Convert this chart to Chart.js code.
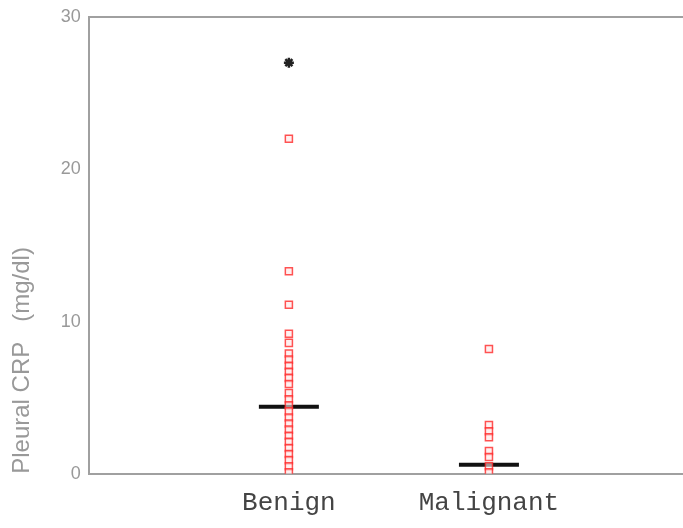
<!DOCTYPE html>
<html>
<head>
<meta charset="utf-8">
<script src="https://cdn.jsdelivr.net/npm/chart.js@4.4.1/dist/chart.umd.min.js"></script>
<style>
  html, body { margin: 0; padding: 0; background: #fff; overflow: hidden; }
  #wrap { width: 683px; height: 528px; }
</style>
</head>
<body>
<div id="wrap"><canvas id="crpChart" width="683" height="528"></canvas></div>
<script>
// groups on the x axis
const groups = ['Benign', 'Malignant']
// pleural CRP (mg/dl)
const benignValues = [22, 13.3, 11.1, 9.2, 8.6, 7.9, 7.5, 7.1, 6.7, 6.3, 5.9, 5.3, 4.9, 4.5, 4.1, 3.7, 3.3, 2.9, 2.5, 2.1, 1.7, 1.3, 0.9, 0.5, 0.1]
const malignantValues = [8.2, 3.2, 2.8, 2.4, 1.5, 1.1, 0.5, 0.1]
const benignOutliers = [27]
const medians = [4.4, 0.6]
const yTicks = [0, 10, 20, 30]

const toPoints = (vals, xPos) => vals.map((v) => ({ x: xPos, y: v }))

const canvas = document.getElementById('crpChart')
const ctx = canvas.getContext('2d')

new Chart(ctx, {
  type: 'scatter',
  data: {
    datasets: [
      {
        label: 'Benign',
        data: toPoints(benignValues, 1),
        pointStyle: 'rect',
        pointRadius: 5,
        borderColor: 'rgba(255, 40, 40, 0.8)',
        backgroundColor: 'rgba(255, 230, 230, 0.6)',
        borderWidth: 1.5,
      },
      {
        label: 'Malignant',
        data: toPoints(malignantValues, 2),
        pointStyle: 'rect',
        pointRadius: 5,
        borderColor: 'rgba(255, 40, 40, 0.8)',
        backgroundColor: 'rgba(255, 230, 230, 0.6)',
        borderWidth: 1.5,
      },
      {
        label: 'Outlier',
        data: toPoints(benignOutliers, 1),
        pointStyle: 'star',
        pointRadius: 5,
        borderColor: '#222',
        backgroundColor: '#222',
        borderWidth: 2.5,
      },
      {
        label: 'Median',
        data: medians.map((m, i) => ({ x: i + 1, y: m })),
        pointStyle: 'line',
        pointRadius: 30,
        borderColor: '#111',
        borderWidth: 4,
      },
    ],
  },
  options: {
    responsive: false,
    animation: false,
    layout: { autoPadding: false, padding: { top: 17, right: 0, bottom: -5, left: 8 } },
    plugins: { legend: { display: false }, tooltip: { enabled: false } },
    scales: {
      x: {
        type: 'linear',
        min: 0,
        max: 2.97,
        afterBuildTicks: (axis) => {
          axis.ticks = groups.map((g, i) => ({ value: i + 1 }))
        },
        afterFit: (axis) => {
          axis.paddingLeft = 0
          axis.paddingRight = 0
        },
        ticks: {
          callback: (v) => groups[v - 1] || '',
          color: '#444',
          font: { family: 'Liberation Mono', size: 26 },
          padding: 14,
          maxRotation: 0,
        },
        grid: { display: false, drawTicks: false },
        border: { color: '#a0a0a0', width: 2 },
      },
      y: {
        min: 0,
        max: 30,
        afterBuildTicks: (axis) => {
          axis.ticks = yTicks.map((v) => ({ value: v }))
        },
        afterFit: (axis) => {
          axis.paddingTop = 0
          axis.paddingBottom = 0
        },
        ticks: {
          color: '#999',
          font: { family: 'Liberation Sans', size: 18 },
          padding: 8,
        },
        grid: {
          drawTicks: false,
          lineWidth: 2,
          color: (c) => (c.tick && c.tick.value === 30 ? '#a0a0a0' : 'rgba(0,0,0,0)'),
        },
        border: { color: '#a0a0a0', width: 2 },
        title: {
          display: true,
          text: 'Pleural CRP   (mg/dl)',
          color: '#999',
          align: 'start',
          font: { family: 'Liberation Sans', size: 24 },
          padding: { top: 0, bottom: 16 },
        },
      },
    },
  },
})
</script>
</body>
</html>
